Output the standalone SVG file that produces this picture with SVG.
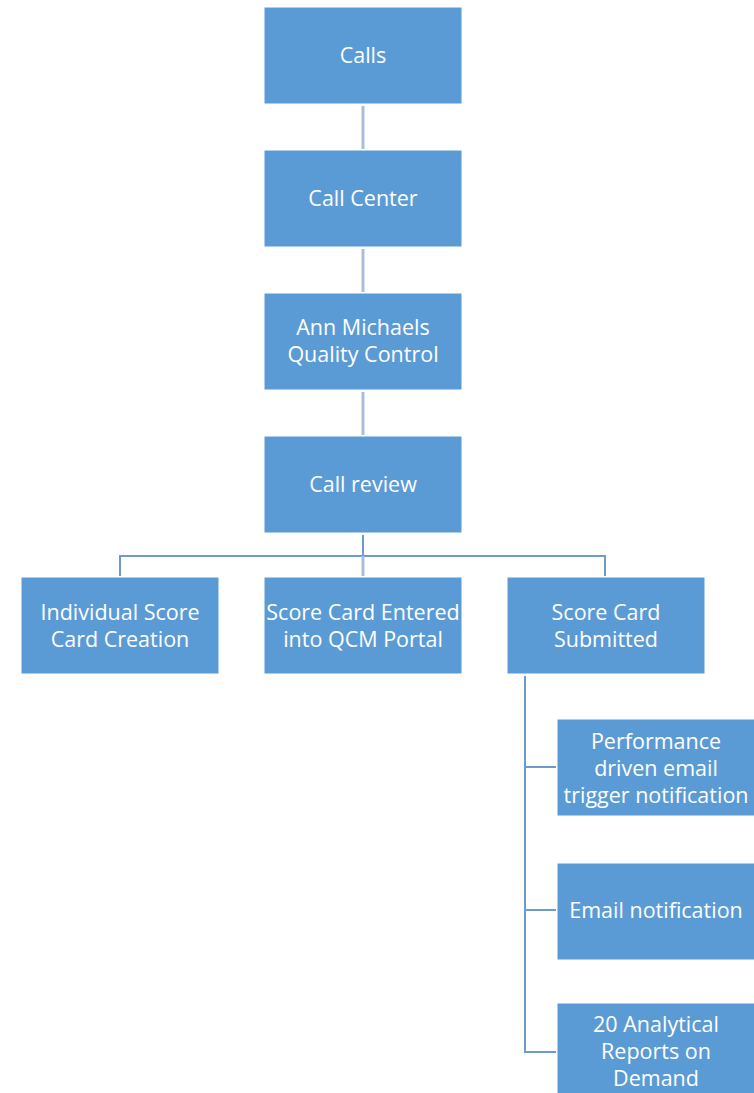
<svg xmlns="http://www.w3.org/2000/svg" width="754" height="1093" viewBox="0 0 754 1093">
<style>
.box{fill:#5b9bd5;stroke:#ffffff;stroke-width:1}
.t{font-family:"Open Sans","Liberation Sans",sans-serif;font-size:21.5px;fill:#ffffff;text-anchor:middle;dominant-baseline:central}
.c1{stroke:#a7bfd9;stroke-width:3;fill:none}
.c2{stroke:#6d9bcf;stroke-width:2;fill:none}
</style>
<rect width="754" height="1093" fill="#ffffff"/>
<g id="connectors">
<line class="c1" x1="363" y1="106" x2="363" y2="149"/>
<line class="c1" x1="363" y1="249" x2="363" y2="292"/>
<line class="c1" x1="363" y1="392" x2="363" y2="435"/>
<line class="c2" x1="363" y1="535" x2="363" y2="556"/>
<polyline class="c2" points="120,576 120,556 605,556 605,576"/>
<line class="c1" x1="363" y1="556" x2="363" y2="576"/>
<polyline class="c2" points="525,676 525,1052 556,1052"/>
<line class="c2" x1="525" y1="767" x2="556" y2="767"/>
<line class="c2" x1="525" y1="910" x2="556" y2="910"/>
</g>
<g id="n-calls"><rect class="box" x="264" y="7" width="198" height="97"/><text class="t" x="363" y="54">Calls</text></g>
<g id="n-callcenter"><rect class="box" x="264" y="150" width="198" height="97"/><text class="t" x="363" y="197">Call Center</text></g>
<g id="n-ann"><rect class="box" x="264" y="293" width="198" height="97"/><text class="t" x="363" y="326">Ann Michaels</text><text class="t" x="363" y="353">Quality Control</text></g>
<g id="n-review"><rect class="box" x="264" y="436" width="198" height="97"/><text class="t" x="363" y="483">Call review</text></g>
<g id="n-individual"><rect class="box" x="21" y="577" width="198" height="97"/><text class="t" x="120" y="611">Individual Score</text><text class="t" x="120" y="638">Card Creation</text></g>
<g id="n-entered"><rect class="box" x="264" y="577" width="198" height="97"/><text class="t" x="363" y="611">Score Card Entered</text><text class="t" x="363" y="638">into QCM Portal</text></g>
<g id="n-submitted"><rect class="box" x="507" y="577" width="198" height="97"/><text class="t" x="606" y="611">Score Card</text><text class="t" x="606" y="638">Submitted</text></g>
<g id="n-performance"><rect class="box" x="557" y="719" width="198" height="97"/><text class="t" x="656" y="740">Performance</text><text class="t" x="656" y="767">driven email</text><text class="t" x="656" y="794">trigger notification</text></g>
<g id="n-email"><rect class="box" x="557" y="863" width="198" height="97"/><text class="t" x="656" y="909">Email notification</text></g>
<g id="n-reports"><rect class="box" x="557" y="1003" width="198" height="97"/><text class="t" x="656" y="1023">20 Analytical</text><text class="t" x="656" y="1050">Reports on</text><text class="t" x="656" y="1077">Demand</text></g>
</svg>
